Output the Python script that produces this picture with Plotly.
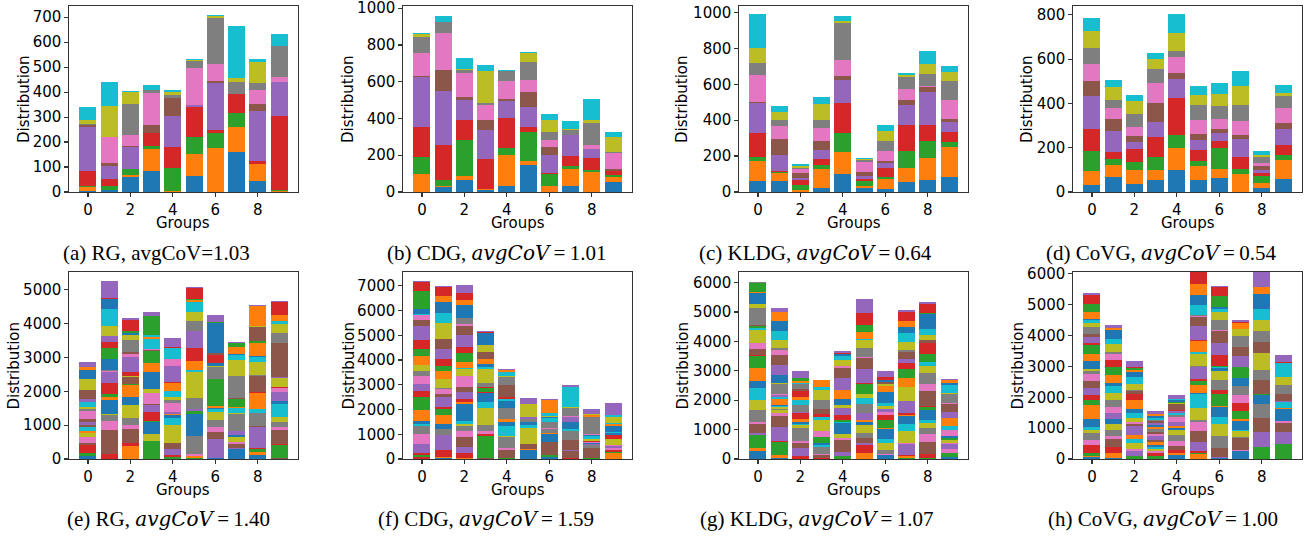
import plotly.graph_objects as go

GROUPS = list(range(10))
TAB10 = ["#1f77b4", "#ff7f0e", "#2ca02c", "#d62728", "#9467bd",
         "#8c564b", "#e377c2", "#7f7f7f", "#bcbd22", "#17becf"]

# ---------- top row: 10 classes, value of each class per group ----------
RG_10 = [
    [6, 13, 5, 60, 178, 6, 2, 4, 16, 50],
    [7, 2, 16, 27, 53, 11, 104, 0, 125, 96],
    [60, 8, 23, 2, 89, 4, 42, 125, 48, 4],
    [84, 88, 14, 50, 0, 32, 129, 13, 0, 19],
    [1, 2, 94, 83, 125, 72, 0, 12, 12, 8],
    [64, 88, 68, 120, 9, 0, 148, 29, 4, 4],
    [2, 174, 60, 12, 189, 8, 68, 184, 6, 7],
    [160, 102, 55, 76, 0, 0, 0, 48, 16, 208],
    [44, 70, 0, 10, 201, 28, 56, 28, 84, 11],
    [2, 1, 6, 296, 136, 0, 20, 124, 0, 48],
]
CDG_10 = [
    [1, 98, 90, 162, 273, 5, 126, 87, 16, 5],
    [27, 7, 31, 189, 298, 112, 199, 60, 0, 32],
    [65, 21, 195, 113, 108, 16, 129, 17, 5, 59],
    [9, 7, 0, 162, 157, 59, 81, 11, 172, 33],
    [32, 168, 37, 168, 91, 11, 97, 54, 0, 6],
    [146, 21, 157, 27, 113, 81, 65, 97, 48, 6],
    [1, 31, 65, 6, 97, 43, 38, 43, 70, 32],
    [32, 92, 16, 54, 114, 0, 0, 32, 5, 43],
    [1, 107, 11, 64, 49, 0, 22, 124, 16, 113],
    [54, 27, 11, 21, 0, 11, 86, 6, 81, 32],
]
KLDG_10 = [
    [61, 112, 22, 133, 167, 6, 150, 67, 83, 190],
    [61, 45, 5, 6, 89, 89, 72, 34, 44, 34],
    [2, 9, 28, 28, 11, 28, 22, 6, 11, 11],
    [22, 106, 22, 34, 50, 50, 72, 45, 89, 39],
    [100, 123, 105, 167, 128, 23, 89, 206, 11, 28],
    [22, 11, 28, 11, 17, 22, 56, 11, 6, 5],
    [17, 55, 11, 51, 27, 12, 55, 56, 56, 33],
    [56, 78, 94, 145, 111, 28, 61, 67, 11, 11],
    [67, 122, 95, 89, 184, 27, 6, 67, 55, 73],
    [83, 167, 28, 56, 56, 16, 106, 106, 50, 33],
]
COVG_10 = [
    [32, 63, 90, 99, 148, 68, 77, 72, 76, 59],
    [68, 54, 27, 31, 95, 54, 49, 36, 59, 32],
    [36, 63, 36, 59, 31, 27, 41, 58, 59, 27],
    [54, 45, 59, 90, 67, 86, 90, 63, 45, 27],
    [99, 99, 59, 166, 86, 27, 72, 27, 81, 86],
    [54, 63, 23, 50, 45, 27, 63, 68, 45, 41],
    [63, 41, 95, 32, 36, 18, 45, 59, 54, 50],
    [1, 80, 23, 54, 81, 18, 63, 72, 86, 68],
    [18, 23, 32, 14, 14, 18, 14, 27, 9, 18],
    [59, 86, 23, 45, 72, 27, 68, 54, 14, 36],
]

# ---------- bottom row: many classes ----------
# each token = class code (class index mod 10) + cumulative top of that class segment
CLASS_CODE = {"B": 0, "O": 1, "G": 2, "R": 3, "P": 4, "N": 5, "K": 6, "Y": 7, "L": 8, "C": 9}

RG_100 = [
    "B80 G180 R400 N480 K650 L780 O830 C930 N1000 P1090 N1170 K1410 Y1490 L1540 C1690 P1770 N2030 L2360 B2620 O2720 P2850",
    "R150 N850 K1120 Y1300 L1330 B1730 O1830 G1920 R2230 P2560 K2600 Y2620 B2950 G3270 R3440 P3620 L3920 C4420 B4720 R4750 P5250",
    "O380 R470 N880 K1000 Y1200 L1590 B1820 O2180 G2200 N2420 L2460 R2560 P3000 K3100 N3150 Y3500 L3650 B3720 G3770 R4100 P4150",
    "G540 L730 B1090 G1120 R1380 P1600 N1620 K1960 L2060 B2560 O2820 G3180 N3230 K3260 C3540 O3600 C3650 G4210 P4330",
    "G50 R110 P290 N460 L1000 C1210 B1300 O1340 P1400 K1650 Y1740 L1830 C2020 O2240 R2260 P2760 K2960 C3290 R3320 P3560",
    "G30 O80 K140 Y680 B1320 G1430 P1480 Y1800 L2560 C2620 O2880 R3270 P3780 Y4070 L4330 C4620 O4680 G4720 R5040 P5090",
    "B30 P590 N800 K940 Y1150 L1380 C1480 B1520 O1550 G2350 K2370 Y2720 L2740 B2840 R3060 N3140 B4020 G4040 P4240",
    "B300 P330 N430 K490 L640 B700 P820 Y1330 L1360 C1500 O1530 G1770 N1800 Y2440 L2910 C3070 B3100 O3310 G3420 P3450",
    "B130 O200 G300 R330 P950 N980 Y1350 C1490 O1960 R1990 N2440 Y2470 L2850 C3010 B3040 O3430 G3480 N3900 L3940 O4520 P4540",
    "N20 G410 R430 N850 K940 Y1090 L1240 C1620 B1710 P1970 K2090 R2120 L2400 P2420 N3420 Y3710 L3980 C4070 O4260 R4620 P4660",
]
CDG_100 = [
    "R70 G160 R230 P590 K1000 Y1350 C1430 B1520 O2000 G2510 R2760 P3050 K3340 Y3540 L3820 O4150 G4460 R4820 P5390 N5620 K5810 C5880 B6080 G6790 R7150 P7180",
    "B30 O100 R350 P960 Y1200 B1400 O1760 G2040 R2120 P2520 N2610 K2820 Y2860 L3220 B3250 O3540 G3780 R4030 P4440 N4850 L5490 C5920 B6330 O6580 R6940 P6980",
    "O40 R230 P480 N880 K1120 Y1320 L1400 C1520 B2210 O2290 R2410 P2690 N2900 K3340 L3640 C3660 O3910 G4280 R4520 P5000 N5370 K5440 Y5690 B6220 O6410 R6730 P7020",
    "N30 G930 R1010 K1120 Y1360 L2060 C2290 B2660 R2720 G2860 R2910 Y3060 L3640 C3720 B3840 O4050 N4320 L4600 B5090 R5130 P5170",
    "G60 N350 K430 Y890 L920 C1330 B1490 O1610 Y2050 B2330 C2410 B2430 R2500 N2980 Y3310 L3340 C3510 O3580 P3620",
    "B350 O400 N590 L1260 C1370 B1490 Y1620 P1690 L2210 P2450",
    "B100 G160 N690 B1000 O1070 Y1200 K1240 Y1500 C1640 B1690 L1750 C1860 O2370 P2410",
    "R30 N330 P360 N760 Y1130 C1210 B1480 P1680 K1750 Y2060 L2110 C2920 P2990",
    "G30 N450 Y560 P600 B640 K690 R740 L820 C910 B960 K1000 Y1700 O1780 L1810 P2010",
    "O260 G300 R350 K430 P540 K570 L810 R960 B1070 C1110 B1320 O1420 C1470 L1710 C1790 P2250",
]
KLDG_100 = [
    "B270 O370 G820 P870 N1180 K1250 Y1660 L2010 C2420 B2660 O3100 G3500 R3530 N3750 K3960 L4390 C4470 G4510 N4570 Y5130 L5270 B5660 O5690 G6000 Y6030",
    "B30 O130 G580 R610 P1080 N1450 K1560 L1660 Y1700 L1760 C1800 B1830 O2050 C2100 P2170 K2200 Y2560 L2580 B2860 P3190 N3530 K3700 Y3760 L4050 C4350 B4700 O5000 P5130",
    "R100 P370 N540 K600 Y1060 L1160 C1200 B1250 O1350 R1580 P1610 Y1850 C2010 O2110 R2320 N2390 Y2560 C2600 O2660 G2750 P2990",
    "R40 N140 K160 Y400 C480 B560 G750 K950 L1320 C1430 R1520 N1710 Y2000 L2350 C2460 O2680",
    "G90 P230 N640 K700 L840 B1230 C1260 G1340 R1480 P1750 L1830 B2040 O2330 P2750 N3100 K3150 L3360 C3500 B3580 R3620 P3670",
    "O200 R480 P560 N710 Y900 L1150 B1250 O1310 P1560 Y1860 C2090 L2200 G2540 R2590 P3060 N3430 K3470 Y3760 L4050 C4090 O4320 G4560 R4970 P5440",
    "B120 K160 Y320 L530 C670 B1010 O1070 G1310 R1500 K1600 P1700 L1800 C1900 B2270 O2480 L2560 N2620 B2700 R2780 P2990",
    "G30 O100 R140 P510 K560 L950 C1190 B1460 O1500 R1560 P1960 L2450 O2760 G3060 R3270 P3390 N3640 Y3700 L3980 C4290 B4500 O4700 R5010 P5070",
    "G30 R170 N570 K840 Y1050 L1230 C1320 B1660 G1760 R1810 N2310 K2550 Y2920 L3160 C3300 G3560 R3950 N4050 L4230 C4430 B4940 G4980 R5270 P5340",
    "B80 G200 K340 P500 K560 L640 G700 B790 K1000 C1110 O1380 P1590 N1880 K1900 Y2220 L2250 C2510 B2590 O2680 P2720",
]
COVG_100 = [
    "B50 O110 G180 R450 K600 Y840 L940 C1030 B1290 O1760 G1910 R2080 P2300 N2530 K2740 Y2850 L2930 B3190 O3410 G3710 R3770 P3940 N4040 Y4290 L4420 C4500 B4530 O4750 G5010 R5300 P5370",
    "B20 O210 R390 N650 K740 Y940 L1140 B1290 P1480 K1690 Y1910 L2140 C2370 B2460 O2730 G2980 R3200 K3400 Y3460 L3730 C3890 B4190 O4260 P4330",
    "G90 P250 K340 L520 C640 O770 P1060 N1150 K1200 L1320 C1480 B1620 O1900 R2100 N2200 Y2250 L2440 C2670 B2820 O2870 G2950 R2990 P3180",
    "G90 R180 K250 L340 C400 B460 O550 N630 P730 K800 N890 Y960 O1030 B1100 P1160 N1230 Y1270 C1340 B1380 O1460 P1560",
    "B130 O180 R300 N420 K580 Y770 L940 B1000 O1060 P1190 K1370 Y1440 C1480 P1560 R1600 N1770 L1800 Y1820 G1850 B1900 C1950 P2070",
    "O160 G200 R250 P550 N900 K1190 Y1280 L1650 C2120 B2150 O2410 G2540 R2590 P2970 Y3030 L3410 C3470 O3820 R3850 P4300 N4610 K4630 Y4670 C4980 B5330 O5660 R6050 N6200",
    "B30 P60 N360 Y750 L1120 C1360 B1680 O1720 G2110 R2250 Y2560 L2860 B2940 C2970 G3000 R3370 P3770 N4140 K4170 Y4500 L4770 C4850 B4940 G5290 R5580 P5620",
    "B260 K290 N680 Y710 L910 C950 B1240 O1290 G1560 R1820 K2060 Y2370 B2620 G2980 P3340 N3640 Y3970 L4200 O4400 R4440 P4490",
    "G390 P880 N1330 Y1780 B2080 G2100 N2560 Y2880 L3420 N3800 Y4150 L4520 C4850 B5340 O5560 P6060 R6200",
    "G480 P870 N1160 K1240 B1620 O1640 C1840 P1880 N2110 Y2400 L2660 C3120 R3150 P3380",
]

MATH = ('<i><span style="font-family:\'DejaVu Serif\';font-style:italic;'
        'font-size:20px">avgCoV</span></i>\u2009=\u2009')
CAPTIONS = [
    "(a) RG, avgCoV=1.03", f"(b) CDG, {MATH}1.01",
    f"(c) KLDG, {MATH}0.64", f"(d) CoVG, {MATH}0.54",
    f"(e) RG, {MATH}1.40", f"(f) CDG, {MATH}1.59",
    f"(g) KLDG, {MATH}1.07", f"(h) CoVG, {MATH}1.00",
]


def many_class_matrix(bars):
    """Turn per-group stacks (class code + cumulative top) into class x group values."""
    per_bar = []
    kmax = 0
    for bar in bars:
        cls, prev, d = -1, 0.0, {}
        for tok in bar.split():
            m = CLASS_CODE[tok[0]]
            top = float(tok[1:])
            nxt = cls + 1 + ((m - (cls + 1)) % 10)
            d[nxt] = top - prev
            prev, cls = top, nxt
        kmax = max(kmax, cls + 1)
        per_bar.append(d)
    return [[per_bar[g].get(k, 0.0) for g in range(len(bars))] for k in range(kmax)]


def ten_class_matrix(bars):
    return [[bars[g][k] for g in range(len(bars))] for k in range(10)]


panels = [ten_class_matrix(RG_10), ten_class_matrix(CDG_10),
          ten_class_matrix(KLDG_10), ten_class_matrix(COVG_10),
          many_class_matrix(RG_100), many_class_matrix(CDG_100),
          many_class_matrix(KLDG_100), many_class_matrix(COVG_100)]

W, H = 1315, 538
x_px = [(69, 298), (403, 632), (739, 968), (1073, 1302)]
y_px = [(6, 192), (272, 459)]
y_ranges = [745, 1012, 1036, 840, 5520, 7560, 6360, 6060]
y_dticks = [100, 200, 200, 200, 1000, 1000, 1000, 1000]
ytitle_x = [24, 348, 682, 1027, 13, 348, 682, 1017]
caption_x = [156, 496, 815, 1161, 168, 486, 816, 1163]

fig = go.Figure()
layout = dict(width=W, height=H, autosize=False,
              margin=dict(l=0, r=0, t=0, b=0, pad=0, autoexpand=False),
              paper_bgcolor="white", plot_bgcolor="white",
              barmode="stack", showlegend=False, annotations=[])

AX_FONT = dict(family="DejaVu Sans", size=15, color="black")

for i, mat in enumerate(panels):
    row, col = divmod(i, 4)
    n = "" if i == 0 else str(i + 1)
    xa, ya = "x" + n, "y" + n
    for k, vals in enumerate(mat):
        if not any(v > 0 for v in vals):
            continue
        fig.add_trace(go.Bar(x=GROUPS, y=vals, width=0.8, xaxis=xa, yaxis=ya,
                             marker=dict(color=TAB10[k % 10], line=dict(width=0)),
                             hoverinfo="skip"))
    x0, x1 = x_px[col]
    y0, y1 = y_px[row]
    common = dict(showline=True, mirror=True, linecolor="#333333", linewidth=1.2,
                  ticks="outside", ticklen=3.5, tickwidth=1.2, tickcolor="#333333",
                  tickfont=AX_FONT, showgrid=False, zeroline=False, fixedrange=True,
                  automargin=False, ticklabeloverflow="allow")
    layout["xaxis" + n] = dict(domain=[x0 / W, x1 / W], anchor=ya, range=[-0.89, 9.89],
                               tickmode="array", tickvals=[0, 2, 4, 6, 8], **common)
    layout["yaxis" + n] = dict(domain=[1 - y1 / H, 1 - y0 / H], anchor=xa,
                               range=[0, y_ranges[i]], dtick=y_dticks[i], tick0=0, **common)
    # y title
    layout["annotations"].append(dict(
        text="Distribution", xref="paper", yref="paper",
        x=ytitle_x[i] / W, y=1 - ((y0 + y1) / 2) / H, textangle=-90,
        showarrow=False, font=AX_FONT, xanchor="center", yanchor="middle"))
    # x title
    gy = 223 if row == 0 else 490
    layout["annotations"].append(dict(
        text="Groups", xref="paper", yref="paper",
        x=((x0 + x1) / 2) / W, y=1 - gy / H, showarrow=False, font=AX_FONT,
        xanchor="center", yanchor="middle"))
    # caption
    cy = 253 if row == 0 else 519
    layout["annotations"].append(dict(
        text=CAPTIONS[i], xref="paper", yref="paper",
        x=caption_x[i] / W, y=1 - cy / H, showarrow=False,
        font=dict(family="Liberation Serif", size=21, color="black"),
        xanchor="center", yanchor="middle"))

fig.update_layout(**layout)
fig.write_html("out.html",
               config={"displayModeBar": False, "staticPlot": True},
               post_script="document.body.style.margin='0px';"
                           "document.body.style.padding='0px';"
                           "document.body.style.overflow='hidden';")
